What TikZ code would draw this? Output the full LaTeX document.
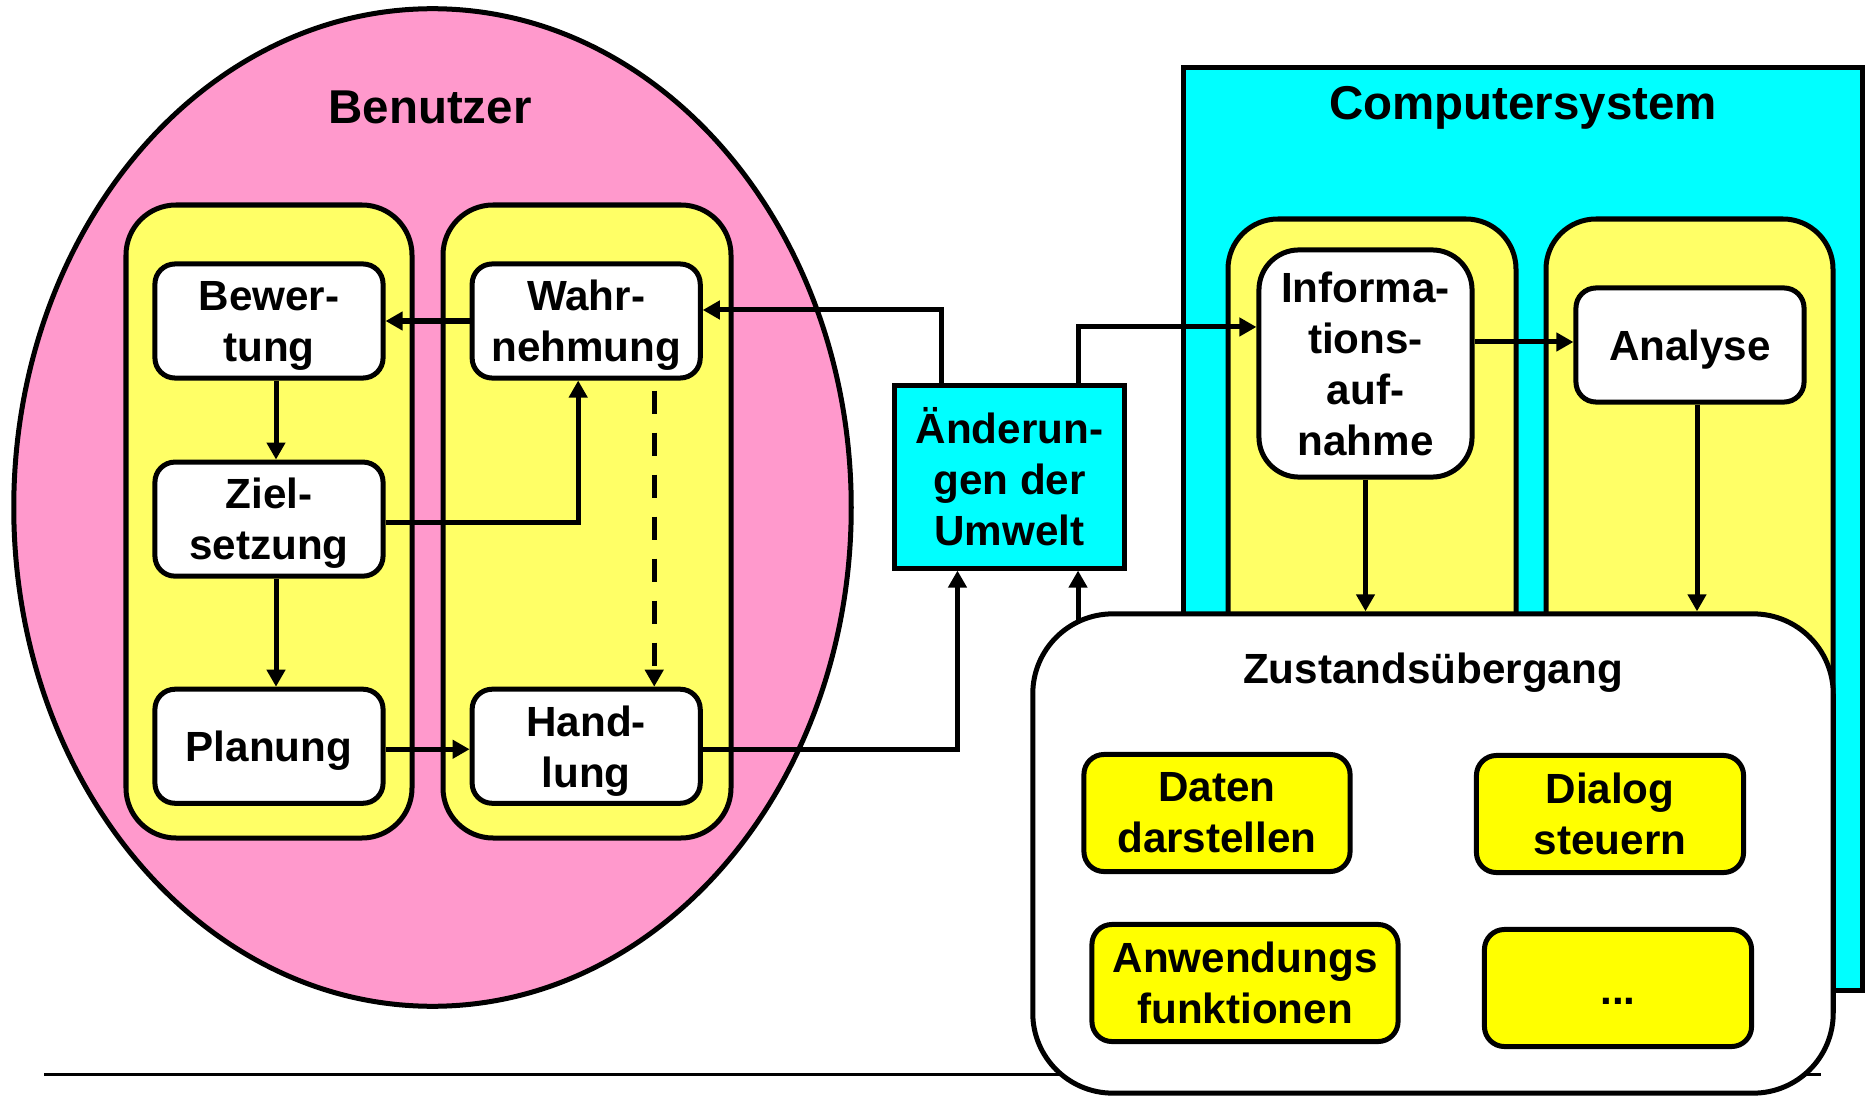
\documentclass[tikz,border=0pt]{standalone}
\usepackage{fontspec}
\setmainfont{Liberation Sans}
\usetikzlibrary{arrows.meta,positioning,calc}
\definecolor{userpink}{RGB}{255,153,204}
\definecolor{paleyellow}{RGB}{255,255,102}
\definecolor{taskyellow}{RGB}{255,255,0}
\definecolor{syscyan}{RGB}{0,255,255}

\begin{document}
\begin{tikzpicture}[
  x=0.01cm, y=-0.01cm,
  txt/.style={font=\fontsize{12}{14.5}\selectfont\bfseries, align=center},
  headline/.style={font=\fontsize{13.5}{16}\selectfont\bfseries},
  stage/.style={txt, draw, line width=0.05cm, rounded corners=0.2cm,
               fill=white, minimum width=2.28cm, minimum height=1.14cm,
               inner sep=0pt, text depth=-1.5pt},
  lane/.style={draw, line width=0.05cm, rounded corners=0.5cm, fill=paleyellow},
  task/.style={txt, draw, line width=0.05cm, rounded corners=0.2cm,
               fill=taskyellow, minimum height=1.17cm, inner sep=0pt},
  arr/.style={-{Triangle[length=0.17cm, width=0.18cm]}, line width=0.05cm},
  node distance=0.79cm
]
\useasboundingbox (0,0) rectangle (1866,1097);
\draw[line width=0.03cm] (44,1074) -- (1821,1074);

\draw[line width=0.05cm, fill=userpink] (432.5,507.5) ellipse [x radius=4.185cm, y radius=4.985cm];
\node[headline] (user) at (430,107) {Benutzer};
\draw[lane] (126,205) rectangle (412,838);
\draw[lane] (443,205) rectangle (731,838);

\node[stage] (bew) at (269,321) {Bewer-\\tung};
\node[stage, below=of bew] (ziel) {Ziel-\\setzung};
\node[stage, below=1.08cm of ziel] (plan) {Planung};
\node[stage, right=0.84cm of bew] (wahr) {Wahr-\\nehmung};
\node[stage, right=0.84cm of plan] (hand) {Hand-\\lung};

\draw[arr] (wahr) -- (bew);
\draw[arr] ([xshift=0.07cm]bew.south) -- ([xshift=0.07cm]ziel.north);
\draw[arr] ([xshift=0.07cm]ziel.south) -- ([xshift=0.07cm]plan.north);
\draw[arr] ([yshift=-0.03cm]ziel.east) -| ([xshift=-0.08cm]wahr.south);
\draw[arr, dash pattern=on 0.23cm off 0.19cm, dash phase=0.32cm]
  ([xshift=0.68cm]wahr.south) -- ([xshift=0.68cm]hand.north);
\draw[arr] ([yshift=-0.03cm]plan.east) -- ([yshift=-0.03cm]hand.west);

\node[txt, draw, line width=0.05cm, fill=syscyan, minimum width=2.29cm,
      minimum height=1.82cm, inner sep=0pt] (aend) at (1009.5,477)
      {Änderun-\\gen der\\Umwelt};

\draw[line width=0.05cm, fill=syscyan] (1183,68) rectangle (1862,990);
\node[headline] (sys) at (1523,108) {Computersystem};
\draw[lane] (1228,219) rectangle (1516,960);
\draw[lane] (1546,219) rectangle (1833,960);

\node[stage, rounded corners=0.4cm, minimum width=2.13cm, minimum height=2.27cm,
      text depth=0pt] (info) at (1365.5,363.5) {Informa-\\tions-\\auf-\\nahme};
\node[stage] (ana) at (1690,345) {Analyse};

\coordinate (up1) at ([xshift=-0.52cm]aend.south);
\coordinate (up2) at ([xshift=0.685cm]aend.south);
\draw[arr] ([yshift=-0.03cm]hand.east) -| (up1);
\draw[arr] ([xshift=-0.675cm]aend.north) |- ([yshift=0.11cm]wahr.east);
\draw[arr] ([xshift=0.685cm]aend.north) |- ([yshift=0.365cm]info.west);
\draw[arr] ([yshift=0.03cm]info.east |- ana.west) -- ([yshift=0.03cm]ana.west);

\node[draw, line width=0.05cm, rounded corners=0.8cm, fill=white,
      minimum width=8cm, minimum height=4.79cm] (zust) at (1433,853.5) {};
\node[txt] (zlabel) at (1433,673) {Zustandsübergang};
\node[task, minimum width=2.66cm] (daten) at (1217,813) {Daten\\darstellen};
\node[task, minimum width=2.67cm] (dialog) at (1610,814) {Dialog\\steuern};
\node[task, minimum width=3.06cm] (anw) at (1245,983) {Anwendungs\\funktionen};
\node[task, minimum width=2.67cm] (more) at (1618,988) {\strut\raisebox{-0.06cm}{...}};

\draw[arr] (info.south) -- (info.south |- zust.north);
\coordinate (anadown) at ([xshift=0.07cm]ana.south);
\draw[arr] (anadown) -- (anadown |- zust.north);
\coordinate (zin) at (up2 |- zust.north);
\draw[arr] ([yshift=-0.1cm]zin) -- (up2);
\end{tikzpicture}
\end{document}
